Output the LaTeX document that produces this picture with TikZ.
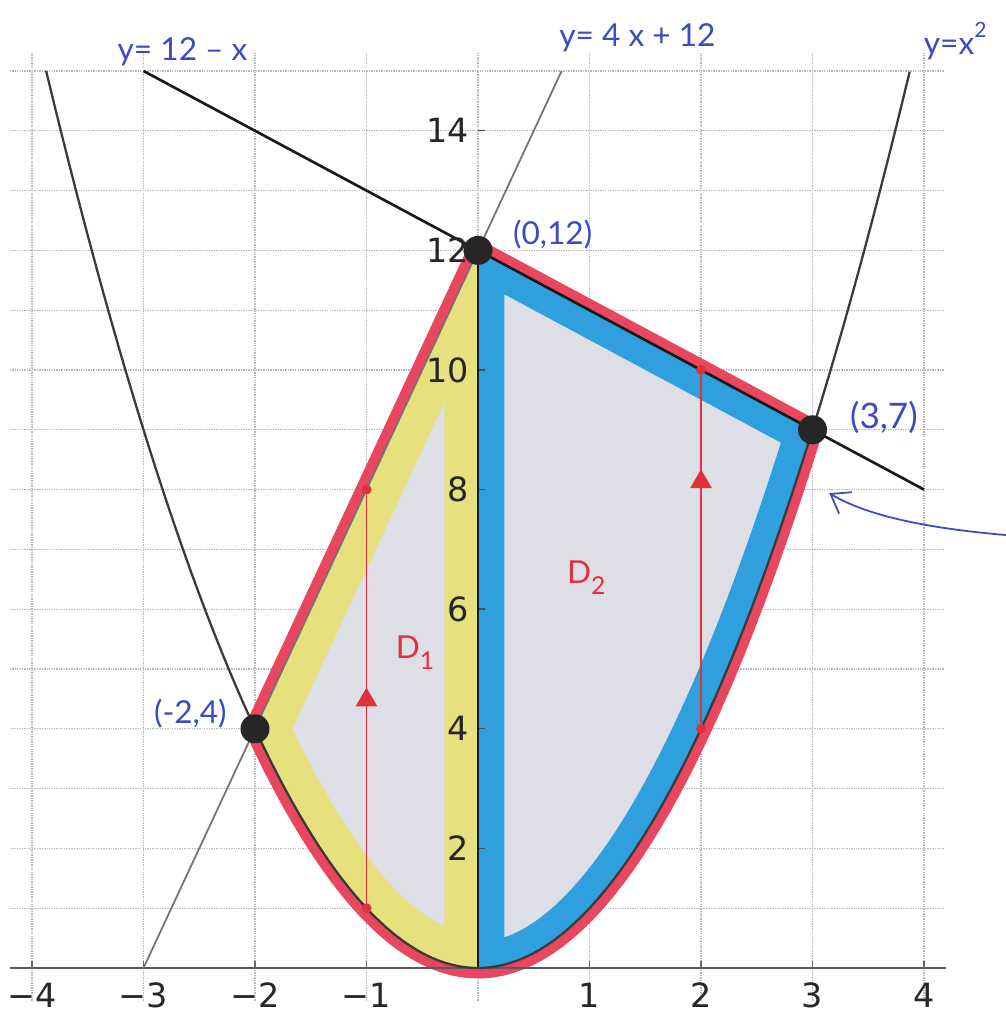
\documentclass[tikz,border=0pt]{standalone}
\usepackage{fontspec}
\setmainfont{DejaVu Sans}
\newfontfamily\hand{Lato}
\usetikzlibrary{arrows.meta,shapes.geometric}
\definecolor{gridc}{HTML}{B4BAC4}
\definecolor{regc}{HTML}{DEDEE6}
\definecolor{yelc}{HTML}{E6E07E}
\definecolor{bluc}{HTML}{2F9FDD}
\definecolor{redc}{HTML}{E8475F}
\definecolor{inkb}{HTML}{3A4BC4}
\definecolor{redl}{HTML}{E0303C}
\definecolor{curvec}{HTML}{3A3A3A}
\tikzset{
  gridline/.style={gridc, line width=0.6pt, dash pattern=on 0.8pt off 0.6pt},
  ticklab/.style={font=\fontsize{19}{22}\selectfont, text=black!85, inner sep=0.5pt},
  handlab/.style={font=\hand\fontsize{18}{20}\selectfont, text=inkb, inner sep=1pt},
  dlab/.style={font=\hand\fontsize{18}{20}\selectfont, text=redl, inner sep=1pt},
  bigdot/.style={circle, fill=black!85, minimum size=0.58cm, inner sep=0pt},
  rdot/.style={circle, fill=redl, minimum size=0.2cm, inner sep=0pt},
  redseg/.style={redl, line width=0.8pt},
  tri/.style={regular polygon, regular polygon sides=3, fill=redl, minimum size=0.5cm, inner sep=0pt},
}
\begin{document}
\begin{tikzpicture}[x=2.23cm,y=1.196cm]
\useasboundingbox (-4.287,-0.7525) rectangle (4.735,16.187);
\fill[white] (-4.287,-0.7525) rectangle (4.735,16.187);
% grid
\foreach \x in {-4,...,4} \draw[gridline] (\x,-0.55) -- (\x,15.3);
\foreach \y in {1,...,15} \draw[gridline] (-4.2,\y) -- (4.18,\y);
% region: red outline (outside part), fill, bands
\def\outerpath{(-2,4) -- (0,12) -- (3,9) -- plot[variable=\t,domain=3:-2,samples=60] (\t,{\t*\t}) -- cycle}
\def\donepath{(-2,4) -- (0,12) -- (0,0) -- plot[variable=\t,domain=0:-2,samples=40] (\t,{\t*\t}) -- cycle}
\def\dtwopath{(0,12) -- (3,9) -- plot[variable=\t,domain=3:0,samples=50] (\t,{\t*\t}) -- cycle}
\draw[redc, line width=0.42cm, line join=round] \outerpath;
\fill[regc] \outerpath;
\begin{scope}
  \clip \donepath;
  \draw[yelc, line width=1.35cm, line join=round] \donepath;
\end{scope}
\begin{scope}
  \clip \dtwopath;
  \draw[bluc, line width=1.05cm, line join=round] \dtwopath;
\end{scope}
% axes
\draw[black!65, line width=1.1pt] (-4.2,0) -- (4.2,0);
\foreach \x in {-4,...,4} \draw[black!60, line width=0.8pt] (\x,0) -- (\x,0.12);
\foreach \y in {2,4,...,14} \draw[black!70, line width=0.8pt] (0,\y) -- (0.06,\y);
\draw[black!90, line width=1.4pt] (0,0) -- (0,12);
% curves
\draw[curvec, line width=1.3pt] plot[variable=\t,domain=-3.873:3.873,samples=120] (\t,{\t*\t});
\draw[black!90, line width=1.5pt] (-3,15) -- (4,8);
\draw[black!55, line width=1pt] (-3,0) -- (0.75,15);
% tick labels
\foreach \x/\l in {-4/−4,-3/−3,-2/−2,-1/−1,1/1,2/2,3/3,4/4}
  \node[ticklab] (xl\x) at (\x,-0.45) {\l};
\foreach \y in {2,4,...,14}
  \node[ticklab, anchor=east] (yl\y) at (-0.07,\y) {\y};
% red vertical segments
\node[rdot] (a1) at (-1,1) {};
\node[rdot] (a2) at (-1,8) {};
\draw[redseg] (a1) -- (a2);
\node[tri] (t1) at (-1,4.48) {};
\node[rdot] (b1) at (2,4) {};
\node[rdot] (b2) at (2,10) {};
\draw[redseg] (b1) -- (b2);
\node[tri] (t2) at (2,8.13) {};
% intersection points
\node[bigdot] (p012) at (0,12) {};
\node[bigdot] (p39) at (3,9) {};
\node[bigdot] (pm24) at (-2,4) {};
% labels
\node[handlab] (lab1) at (-2.65,15.32) {y= 12 – x};
\node[handlab] (lab2) at (1.43,15.55) {y= 4 x + 12};
\node[handlab] (lab3) at (4.28,15.5) {y=x\raisebox{0.55em}{\fontsize{12}{12}\selectfont 2}};
\node[handlab] (lab4) at (0.67,12.27) {(0,12)};
\node[handlab, font=\hand\fontsize{20}{22}\selectfont] (lab5) at (3.64,9.2) {(3,7)};
\node[handlab] (lab6) at (-2.58,4.25) {(-2,4)};
\node[dlab] (d1) at (-0.565,5.28) {D\raisebox{-0.35em}{\fontsize{14}{14}\selectfont 1}};
\node[dlab] (d2) at (0.97,6.52) {D\raisebox{-0.35em}{\fontsize{14}{14}\selectfont 2}};
% blue arrow
\coordinate (arrS) at (4.735,7.24);
\coordinate (arrE) at (3.15,7.94);
\draw[inkb, line width=1pt, -{Straight Barb[length=3.5mm,width=5mm]}] (arrS) .. controls (4.05,7.35) and (3.5,7.55) .. (arrE);
\end{tikzpicture}
\end{document}
